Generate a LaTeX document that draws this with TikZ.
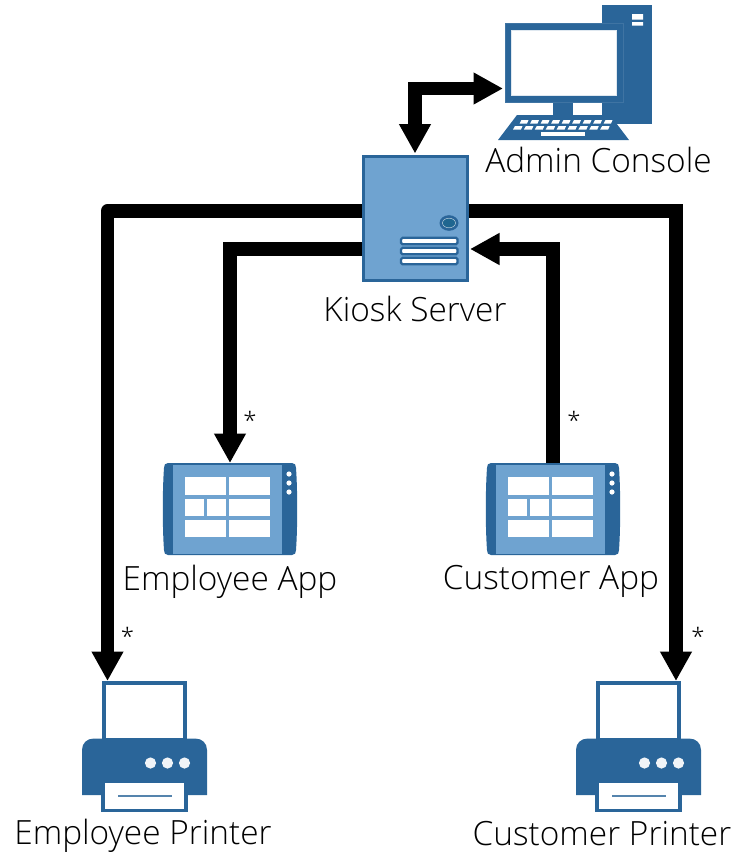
\documentclass[tikz,border=0pt]{standalone}
\usepackage{fontspec}
\setmainfont{Open Sans Light}
\usetikzlibrary{arrows.meta}
\definecolor{icondark}{HTML}{2A6599}
\definecolor{iconlight}{HTML}{6FA3D0}
\definecolor{knob}{HTML}{1F6690}
\tikzset{
  darkfill/.style={fill=icondark,draw=none},
  whitecell/.style={fill=white,draw=none},
  ghost/.style={draw=none,fill=none,inner sep=0pt,outer sep=0pt,rectangle},
  label/.style={font=\fontsize{33.4}{38}\selectfont,inner sep=0pt,text=black},
  star/.style={font=\fontsize{24}{26}\selectfont,inner sep=0pt,text=black},
  link/.style={draw=black,line width=13.8pt,line join=miter,
    -{Triangle[length=29.5pt,width=30pt]}},
  linkboth/.style={draw=black,line width=13.8pt,line join=miter,
    {Triangle[length=29.5pt,width=30pt]}-{Triangle[length=29.5pt,width=30pt]}},
}
\newcommand{\tabletIcon}[3]{%
\begin{scope}[shift={(#2,#3)}]
  \path[darkfill] (168,463) -- (292,463)
     .. controls (295,463) and (296,465) .. (296,468)
     .. controls (297.6,490) and (297.6,528) .. (296,550)
     .. controls (296,553) and (295,555) .. (292,555) -- (168,555)
     .. controls (165,555) and (164,553) .. (164,550)
     .. controls (162.4,528) and (162.4,490) .. (164,468)
     .. controls (164,465) and (165,463) .. (168,463) -- cycle;
  \node[ghost,minimum width=134pt,minimum height=92pt] (#1) at (230,509) {};
  \fill[iconlight] (173,465) rectangle (282,554);
  \foreach \a/\b/\c/\d in {185/226/477.3/495, 229/269.5/477.3/495,
      185/204/498.7/516, 207/226/498.7/516, 229/269.5/498.7/516,
      185/226/520/537, 229/269.5/520/537}
    \fill[white] (\a,\c) rectangle (\b,\d);
  \foreach \y in {474,483,492} \fill[white] (289,\y) circle (2.6pt);
\end{scope}}
\newcommand{\printerIcon}[3]{%
\begin{scope}[shift={(#2,#3)}]
  \draw[icondark,line width=3.6pt,fill=white] (103.8,682.8) rectangle (185.2,740);
  \path[darkfill] (82,795) -- (82,750) .. controls (82,743) and (87,738.5) .. (94,738.5)
     -- (195,738.5) .. controls (202,738.5) and (207,743) .. (207,750) -- (207,795) -- cycle;
  \node[ghost,minimum width=125pt,minimum height=131pt] (#1) at (144.5,746.5) {};
  \fill[white!93!icondark] (150.5,763) circle (5.6pt) (167.5,763) circle (5.6pt) (184.5,763) circle (5.6pt);
  \draw[icondark,line width=3.6pt,fill=white] (102.8,781.5) rectangle (186.2,810.5);
  \draw[icondark!80!white,line width=1.4pt] (118,796) -- (172,796);
\end{scope}}
\begin{document}
\begin{tikzpicture}[x=1pt,y=-1pt]
\useasboundingbox (0,0) rectangle (746,852);
% admin console
\fill[icondark] (602,5) rectangle (652,124);
\fill[white] (632,14) rectangle (643,19.5) (632,22) rectangle (643,25.5);
\fill[icondark] (553,100) rectangle (573,117);
\draw[icondark!90!white,line width=0.6pt,fill=icondark] (505,23) rectangle (623,102);
\draw[white!85!icondark,line width=0.8pt,fill=white] (511,30) rectangle (616,95);
\fill[icondark] (498,140) -- (517,115) -- (610,115) -- (629,140) -- cycle;
\foreach \i in {0,...,8} {
  \fill[white] ({521.5+\i*10.5},120) -- ({528.5+\i*10.5},120) -- ({527+\i*10.5},123.5) -- ({519.7+\i*10.5},123.5) -- cycle;
  \fill[white] ({515+\i*10.9},126) -- ({522.5+\i*10.9},126) -- ({521+\i*10.9},129.5) -- ({513+\i*10.9},129.5) -- cycle;
}
\fill[white] (541,132) rectangle (585,135.5);
\node[ghost,minimum width=131pt,minimum height=135pt] (console) at (575,72.5) {};
% server
\node[draw=icondark,line width=3pt,fill=iconlight,minimum width=104pt,minimum height=124pt,inner sep=0pt,outer sep=1.5pt] (server) at (415.5,218.5) {};
\fill[icondark] (449,223) ellipse (9.5pt and 7.8pt);
\draw[white!70!knob,line width=0.5pt,fill=knob] (449,223) ellipse (6.5pt and 4.8pt);
\foreach \y in {241,251,261}
  \draw[icondark,line width=2.2pt,fill=white,rounded corners=1.5pt] (401,\y-3.2) rectangle (457.5,\y+3.2);
% tablets and printers
\tabletIcon{emptab}{0}{0}
\tabletIcon{custab}{323}{0}
\printerIcon{empprint}{0}{0}
\printerIcon{cusprint}{494}{0}
% ports
\coordinate (portA) at (503,88.5);
\coordinate (portB) at (415,153.5);
\coordinate (portC) at (362,211);
\coordinate (portD) at (469,211);
\coordinate (portE) at (362,249);
\coordinate (portF) at (470,249);
\coordinate (portG) at (230,463);
\coordinate (portH) at (553,463);
\coordinate (portI) at (107.5,681);
\coordinate (portJ) at (676,681);
% connectors
\draw[linkboth] (portB) |- (portA);
\draw[link,line join=round] (portC) -| (portI);
\draw[link] (portD) -| (portJ);
\draw[link] (portE) -| (portG);
\draw[link] (portH) |- (portF);
% labels
\node[label] (lblA) at (598.5,159.5) {Admin Console};
\node[label] (lblK) at (415,309) {Kiosk Server};
\node[label] (lblE) at (230,581.5) {Employee App};
\node[label] (lblC) at (551,581.5) {Customer App};
\node[label] (lblP) at (143,835.5) {Employee Printer};
\node[label] (lblQ) at (602,833.5) {Customer Printer};
\node[star] (s1) at (250,420) {*};
\node[star] (s2) at (574,420) {*};
\node[star] (s3) at (127.5,636) {*};
\node[star] (s4) at (698,636) {*};
\end{tikzpicture}
\end{document}
